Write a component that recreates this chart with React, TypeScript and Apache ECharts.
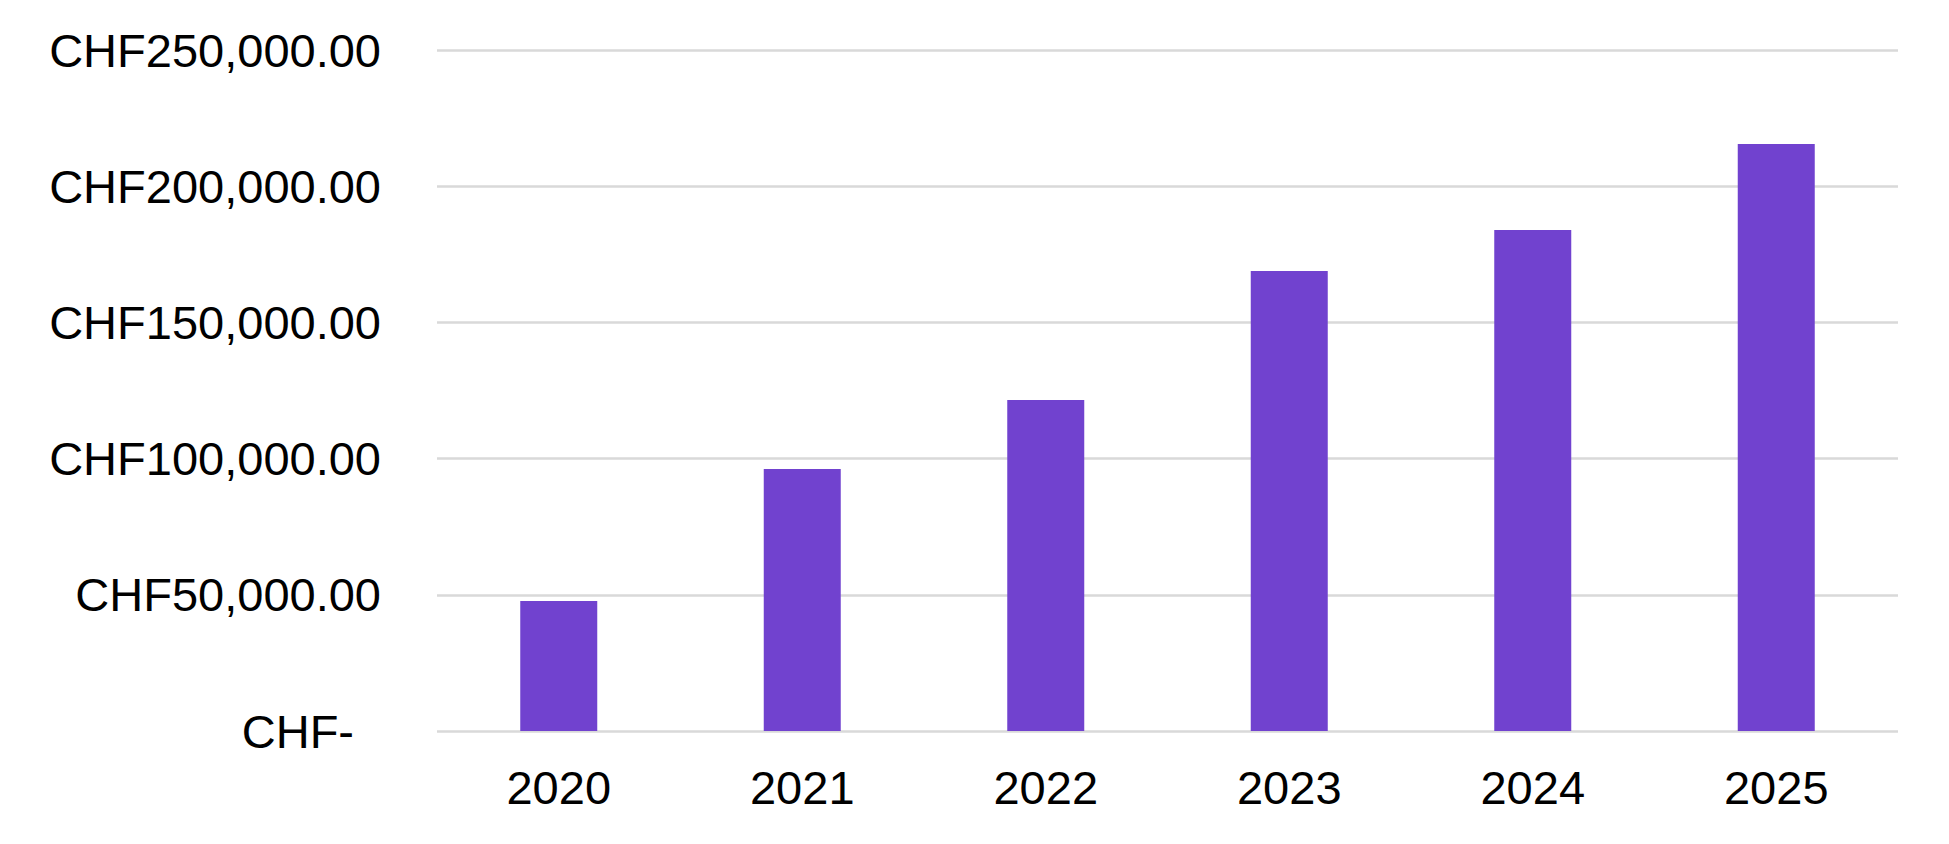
import React, { useEffect, useRef } from "react";
import * as echarts from "echarts";

const categories = ["2020", "2021", "2022", "2023", "2024", "2025"];
const values = [47700, 96200, 121500, 168900, 183900, 215500];
const yTickLabels = [
  "CHF-",
  "CHF50,000.00",
  "CHF100,000.00",
  "CHF150,000.00",
  "CHF200,000.00",
  "CHF250,000.00",
];

const FONT = "'Liberation Sans', Arial, sans-serif";

export default function App() {
  const ref = useRef<HTMLDivElement>(null);
  useEffect(() => {
    document.body.style.margin = "0";
    if (!ref.current) return;
    const chart = echarts.init(ref.current, undefined, { renderer: "svg" });
    chart.setOption({
      animation: false,
      backgroundColor: "#ffffff",
      grid: { left: 437, right: 51, top: 50, bottom: 113, containLabel: false },
      xAxis: {
        type: "category",
        data: categories,
        axisLine: { show: false },
        axisTick: { show: false },
        axisLabel: {
          color: "#000000",
          fontSize: 47,
          fontFamily: FONT,
          margin: 33,
        },
      },
      yAxis: {
        type: "value",
        min: 0,
        max: 250000,
        interval: 50000,
        axisLine: { show: false },
        axisTick: { show: false },
        splitLine: { show: true, lineStyle: { color: "#d9d9d9", width: 2.5 } },
        axisLabel: {
          color: "#000000",
          fontSize: 47,
          fontFamily: FONT,
          margin: 56,
          formatter: (v: number) => {
            const idx = Math.round(v / 50000);
            const label = yTickLabels[idx] ?? "";
            return idx === 0 ? "{z|" + label + "}" : label;
          },
          rich: {
            z: {
              color: "#000000",
              fontSize: 47,
              fontFamily: FONT,
              padding: [0, 27, 0, 0],
            },
          },
        },
      },
      series: [
        {
          type: "bar",
          data: values,
          barWidth: 77,
          itemStyle: { color: "#7142CF" },
        },
      ],
    });
    return () => chart.dispose();
  }, []);
  return <div ref={ref} style={{ width: 1949, height: 844 }} />;
}
